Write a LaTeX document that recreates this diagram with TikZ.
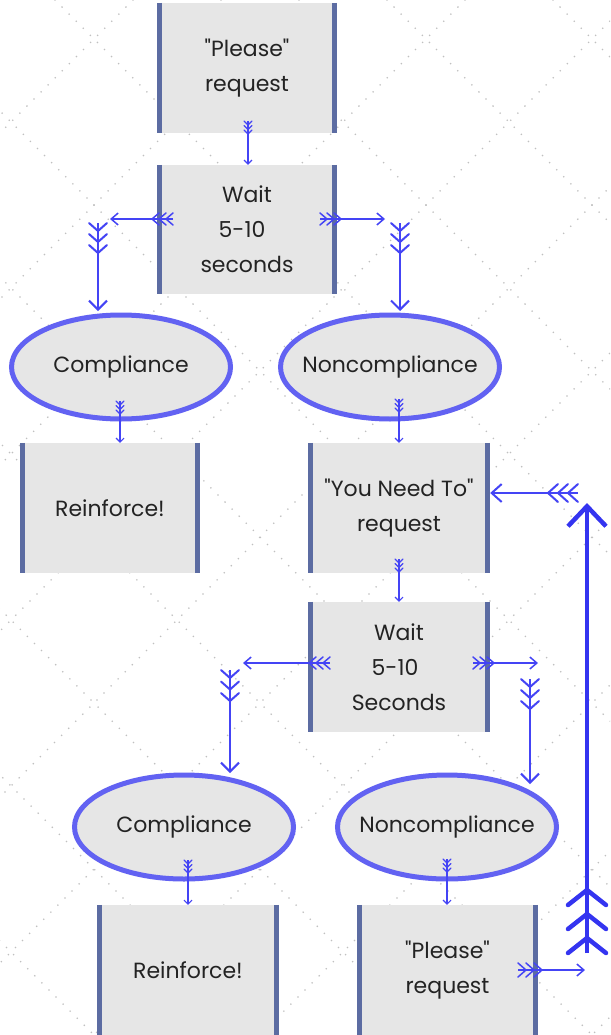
\documentclass[tikz,border=0pt]{standalone}
\usepackage{fontspec}
\setmainfont{Poppins}[Ligatures=TeXOff]
\usetikzlibrary{arrows.meta,shapes.geometric}
\definecolor{arrowblue}{RGB}{68,68,245}
\definecolor{bigblue}{RGB}{52,52,240}
\definecolor{ellblue}{RGB}{98,98,242}
\definecolor{barblue}{RGB}{92,108,162}
\definecolor{boxgray}{RGB}{230,230,230}
\definecolor{txt}{RGB}{35,35,35}
\definecolor{dotgray}{RGB}{192,192,192}
\newcommand\lbl{\fontsize{22}{35}\selectfont}
\tikzset{
  box/.style={rectangle, fill=boxgray, minimum width=180pt, minimum height=130pt, inner sep=0pt, align=center, font=\lbl, text=txt},
  ell/.style={ellipse, draw=ellblue, line width=5pt, fill=boxgray, minimum width=219pt, minimum height=104pt, inner xsep=-25pt, inner ysep=0pt, font=\lbl, text=txt},
  bar/.style={draw=barblue, line width=5pt},
  dotline/.style={draw=dotgray, line width=1.8pt, line cap=round, dash pattern=on 0pt off 10pt},
  thinarr/.style={draw=arrowblue, line width=1.1pt, -{Straight Barb[length=4pt,width=8pt]}},
  medarr/.style={draw=arrowblue, line width=1.5pt, -{Straight Barb[length=7pt,width=12pt]}},
  vertarr/.style={draw=arrowblue, line width=2pt, -{Straight Barb[length=9pt,width=18pt]}},
  retarr/.style={draw=arrowblue, line width=2pt, -{Straight Barb[length=10pt,width=18pt]}},
  bigarr/.style={draw=bigblue, line width=4.5pt, -{Straight Barb[length=20pt,width=38pt]}},
}
\newcommand\fletch[7][arrowblue]{%
  \begin{scope}[shift={#2},rotate=#3]
    \foreach \k in {0,1,2}{\draw[#1,line cap=round,line join=round,line width=#7] ({\k*#6},{#4}) -- ({\k*#6+#5},0) -- ({\k*#6},{-#4});}
  \end{scope}}
\newcommand\bars[1]{%
  \draw[bar] ([xshift=2.5pt]#1.north west) -- ([xshift=2.5pt]#1.south west);
  \draw[bar] ([xshift=-2.5pt]#1.north east) -- ([xshift=-2.5pt]#1.south east);}
\begin{document}
\begin{tikzpicture}[x=1pt,y=-1pt]
\fill[white] (0,0) rectangle (610,1035);
\useasboundingbox (0,0) rectangle (610,1035);
% dotted background lattice
\begin{scope}
  \clip (0,0) rectangle (610,1035);
  \foreach \k in {-7,...,4}{\draw[dotline] ({55+166*\k},0) -- ++(1100,1100);}
  \foreach \k in {-1,...,10}{\draw[dotline] ({133+166*\k},0) -- ++(-1100,1100);}
\end{scope}
% boxes
\node[box] (p1) at (247,68) {"Please"\\request};
\node[box, minimum height=129pt] (w1) at (247,229.5) {Wait\\\hspace*{-10pt}5-10\\seconds};
\node[box] (r1) at (110,508) {Reinforce!};
\node[box, minimum width=182pt] (y1) at (399,508) {"You Need To"\\request};
\node[box, minimum width=182pt] (w2) at (399,667) {Wait\\\hspace*{-8pt}5-10\\Seconds};
\node[box, minimum width=182pt] (r2) at (188,970) {Reinforce!};
\node[box, minimum width=181pt] (p2) at (447.5,970) {"Please"\\request};
\foreach \b in {p1,w1,r1,y1,w2,r2,p2}{\bars{\b}}
% ellipses
\node[ell] (c1) at (121,367) {Compliance};
\node[ell] (n1) at (390,367) {Noncompliance};
\node[ell] (c2) at (184,827) {Compliance};
\node[ell] (n2) at (447,827) {Noncompliance};
% coordinates
\coordinate (s1) at (248,121);
\coordinate (s2) at (173,219); \coordinate (e2) at (110,219);
\coordinate (s3) at (98,223);  \coordinate (e3) at (98,311);
\coordinate (s4) at (320,219); \coordinate (e4) at (385,219);
\coordinate (s5) at (400,223); \coordinate (e5) at (400,311);
\coordinate (s6) at (120,401);
\coordinate (s7) at (399,399);
\coordinate (s8) at (399,559);
\coordinate (s9) at (330,663); \coordinate (e9) at (243,663);
\coordinate (s10) at (230,670); \coordinate (e10) at (230,773);
\coordinate (s11) at (473,663); \coordinate (e11) at (538,663);
\coordinate (s12) at (530,679); \coordinate (e12) at (530,784);
\coordinate (s13) at (188,860);
\coordinate (s14) at (447,859);
\coordinate (s15) at (518,970); \coordinate (e15) at (585,970);
\coordinate (s16) at (587,953); \coordinate (e16) at (587,503);
\coordinate (s17) at (578,493);
% connectors
\draw[thinarr] (s1) -- (s1 |- w1.north);  \fletch{(s1)}{-90}{4}{4}{4.5}{1.1pt}
\draw[medarr] (s2) -- (e2);               \fletch{(s2)}{180}{6}{7}{7}{1.5pt}
\draw[vertarr] (s3) -- (e3);              \fletch{(s3)}{-90}{9}{8}{11}{2pt}
\draw[medarr] (s4) -- (e4);               \fletch{(s4)}{0}{6}{7}{7}{1.5pt}
\draw[vertarr] (s5) -- (e5);              \fletch{(s5)}{-90}{9}{8}{11}{2pt}
\draw[thinarr] (s6) -- (s6 |- r1.north);  \fletch{(s6)}{-90}{4}{4}{4.5}{1.1pt}
\draw[thinarr] (s7) -- (s7 |- y1.north);  \fletch{(s7)}{-90}{4}{4}{4.5}{1.1pt}
\draw[thinarr] (s8) -- (s8 |- w2.north);  \fletch{(s8)}{-90}{4}{4}{4.5}{1.1pt}
\draw[medarr] (s9) -- (e9);               \fletch{(s9)}{180}{6}{7}{7}{1.5pt}
\draw[vertarr] (s10) -- (e10);            \fletch{(s10)}{-90}{9}{8}{11.5}{2pt}
\draw[medarr] (s11) -- (e11);             \fletch{(s11)}{0}{6}{7}{7}{1.5pt}
\draw[vertarr] (s12) -- (e12);            \fletch{(s12)}{-90}{9}{8}{11}{2pt}
\draw[thinarr] (s13) -- (s13 |- r2.north); \fletch{(s13)}{-90}{4}{4}{4.5}{1.1pt}
\draw[thinarr] (s14) -- (s14 |- p2.north); \fletch{(s14)}{-90}{4}{4}{4.5}{1.1pt}
\draw[medarr] (s15) -- (e15);             \fletch{(s15)}{0}{7}{8}{8}{1.5pt}
\draw[bigarr] (s16) -- (e16);             \fletch[bigblue]{(s16)}{90}{19}{15}{24}{4.5pt}
\draw[retarr] (s17) -- (s17 -| y1.east);  \fletch{(s17)}{180}{9}{10}{10}{2pt}
\end{tikzpicture}
\end{document}
